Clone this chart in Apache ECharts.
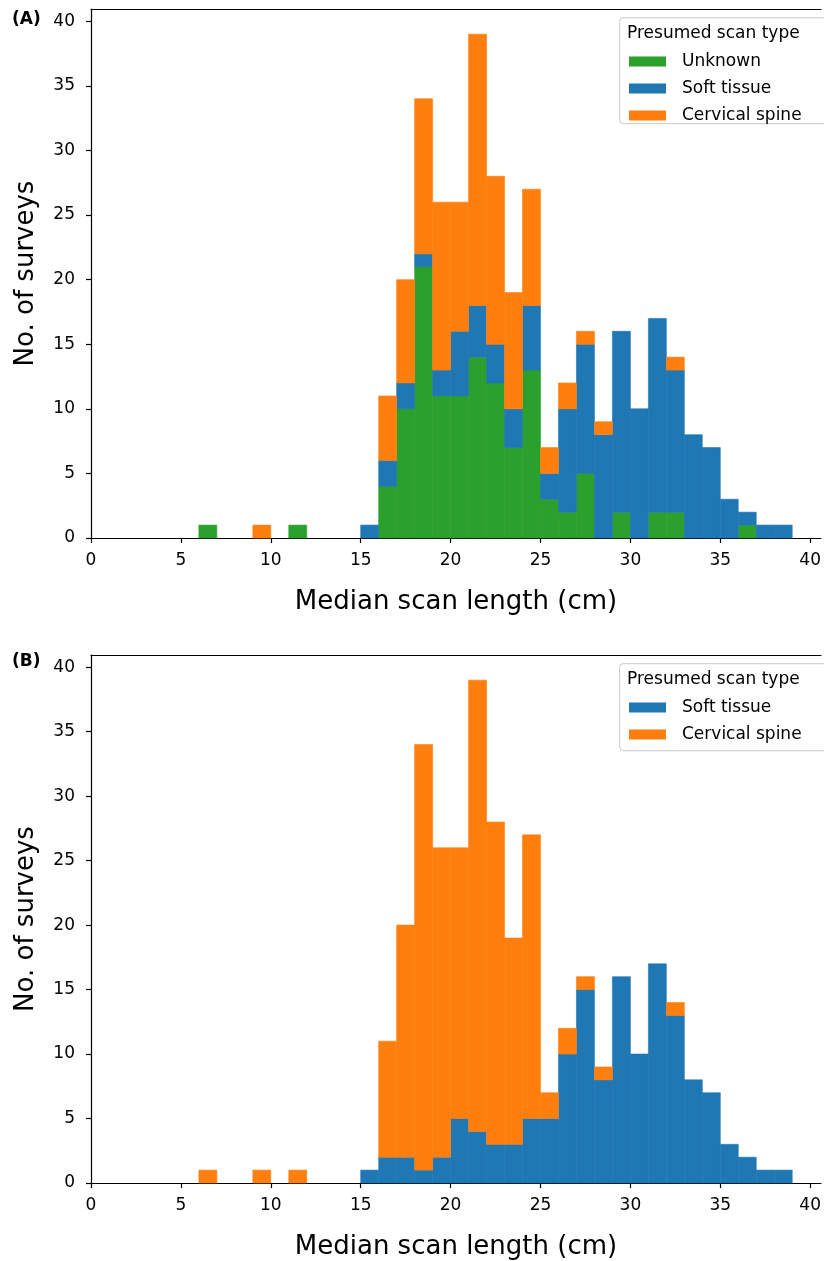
<!DOCTYPE html>
<html>
<head>
<meta charset="utf-8">
<script src="https://cdn.jsdelivr.net/npm/echarts@6/dist/echarts.min.js"></script>
<style>
html, body { margin: 0; padding: 0; background: #fff; }
#chart { width: 824px; height: 1261px; }
</style>
</head>
<body>
<div id="chart"></div>
<script>
// histogram bins are 1 cm wide, these are the left edges
var binStarts = [6,7,8,9,10,11,12,13,14,15,16,17,18,19,20,21,22,23,24,25,26,27,28,29,30,31,32,33,34,35,36,37,38];

// panel A
var aUnknown  = [1,0,0,0,0,1,0,0,0,0,4,10,21,11,11,14,12,7,13,3,2,5,0,2,0,2,2,0,0,0,1,0,0];
var aSoft     = [0,0,0,0,0,0,0,0,0,1,2,2,1,2,5,4,3,3,5,2,8,10,8,14,10,15,11,8,7,3,1,1,1];
var aCervical = [0,0,0,1,0,0,0,0,0,0,5,8,12,13,10,21,13,9,9,2,2,1,1,0,0,0,1,0,0,0,0,0,0];

// panel B
var bSoft     = [0,0,0,0,0,0,0,0,0,1,2,2,1,2,5,4,3,3,5,5,10,15,8,16,10,17,13,8,7,3,2,1,1];
var bCervical = [1,0,0,1,0,1,0,0,0,0,9,18,33,24,21,35,25,16,22,2,2,1,1,0,0,0,1,0,0,0,0,0,0];

var xTicks = [0,5,10,15,20,25,30,35,40];
var yTicks = [0,5,10,15,20,25,30,35,40];

var GREEN = '#2ca02c', BLUE = '#1f77b4', ORANGE = '#ff7f0e';
var FONT = 'DejaVu Sans';

// stack counts on top of a running base, one rect per non empty bin
function stackRows(counts, base) {
    var rows = [];
    for (var i = 0; i < binStarts.length; i++) {
        if (counts[i] > 0) {
            rows.push([binStarts[i], binStarts[i] + 1, base[i], base[i] + counts[i]]);
        }
        base[i] += counts[i];
    }
    return rows;
}

function renderBar(params, api) {
    var p0 = api.coord([api.value(0), api.value(3)]);
    var p1 = api.coord([api.value(1), api.value(2)]);
    var c = api.visual('color');
    return {
        type: 'rect',
        shape: {x: p0[0], y: p0[1], width: p1[0] - p0[0], height: p1[1] - p0[1]},
        style: {fill: c, stroke: c, lineWidth: 0.6}
    };
}

function barSeries(name, idx, rows, color) {
    return {
        name: name,
        type: 'custom',
        xAxisIndex: idx,
        yAxisIndex: idx,
        renderItem: renderBar,
        encode: {x: [0, 1], y: [2, 3]},
        itemStyle: {color: color},
        data: rows,
        silent: true
    };
}

var baseA = binStarts.map(function() { return 0; });
var baseB = binStarts.map(function() { return 0; });
var series = [
    barSeries('Unknown', 0, stackRows(aUnknown, baseA), GREEN),
    barSeries('Soft tissue', 0, stackRows(aSoft, baseA), BLUE),
    barSeries('Cervical spine', 0, stackRows(aCervical, baseA), ORANGE),
    barSeries('Soft tissue', 1, stackRows(bSoft, baseB), BLUE),
    barSeries('Cervical spine', 1, stackRows(bCervical, baseB), ORANGE)
];

// axis runs a bit past the right edge of the picture
var XMAX = 40.6;

function xAxisFor(idx) {
    return {
        type: 'value', gridIndex: idx, min: 0, max: XMAX,
        name: 'Median scan length (cm)', nameLocation: 'middle', nameGap: 51,
        nameTextStyle: {fontFamily: FONT, fontSize: 26, color: '#000'},
        axisLine: {lineStyle: {color: '#000', width: 1.2}},
        axisTick: {length: 5, lineStyle: {color: '#000', width: 1.2}, customValues: xTicks},
        axisLabel: {fontFamily: FONT, fontSize: 17, color: '#000', margin: 14, customValues: xTicks},
        splitLine: {show: false}
    };
}
// top spine only
function topAxisFor(idx) {
    return {
        type: 'value', gridIndex: idx, position: 'top', min: 0, max: XMAX,
        axisLine: {lineStyle: {color: '#000', width: 1.2}},
        axisTick: {show: false}, axisLabel: {show: false}, splitLine: {show: false}
    };
}
function yAxisFor(idx) {
    return {
        type: 'value', gridIndex: idx, min: 0, max: 40.95,
        name: 'No. of surveys', nameLocation: 'middle', nameGap: 52, nameRotate: 90,
        nameTextStyle: {fontFamily: FONT, fontSize: 26, color: '#000'},
        axisLine: {show: true, lineStyle: {color: '#000', width: 1.2}},
        axisTick: {show: true, length: 5, lineStyle: {color: '#000', width: 1.2}, customValues: yTicks},
        axisLabel: {fontFamily: FONT, fontSize: 17, color: '#000', margin: 16, customValues: yTicks},
        splitLine: {show: false}
    };
}

function legendFor(top, names) {
    return {
        orient: 'vertical', left: 629, top: top, padding: 0, itemGap: 10, z: 20,
        icon: 'rect', itemWidth: 37, itemHeight: 10,
        textStyle: {fontFamily: FONT, fontSize: 17, color: '#000', padding: [0, 0, 0, 11]},
        data: names, selectedMode: false
    };
}

function legendBox(top, height) {
    return [
        {type: 'rect', left: 619, top: top, shape: {width: 215, height: height, r: 4},
         style: {fill: '#fff', stroke: '#d4d4d4', lineWidth: 1.2}, z: 1},
        {type: 'text', left: 627, top: top + 8,
         style: {text: 'Presumed scan type', fontFamily: FONT, fontSize: 17, fill: '#000'}, z: 2}
    ];
}

var chart = echarts.init(document.getElementById('chart'));
var option = {
    backgroundColor: '#fff',
    animation: false,
    grid: [
        {left: 91, right: 0, top: 9, height: 529},
        {left: 91, right: 0, top: 655, height: 529}
    ],
    xAxis: [xAxisFor(0), xAxisFor(1), topAxisFor(0), topAxisFor(1)],
    yAxis: [yAxisFor(0), yAxisFor(1)],
    legend: [
        legendFor(53, ['Unknown', 'Soft tissue', 'Cervical spine']),
        legendFor(699, ['Soft tissue', 'Cervical spine'])
    ],
    graphic: [].concat(
        legendBox(17, 106),
        legendBox(663, 87),
        [
            {type: 'text', left: 12, top: 11, style: {text: '(A)', fontFamily: FONT, fontSize: 17, fontWeight: 'bold', fill: '#000'}},
            {type: 'text', left: 12, top: 653, style: {text: '(B)', fontFamily: FONT, fontSize: 17, fontWeight: 'bold', fill: '#000'}}
        ]
    ),
    series: series
};
chart.setOption(option);
</script>
</body>
</html>
